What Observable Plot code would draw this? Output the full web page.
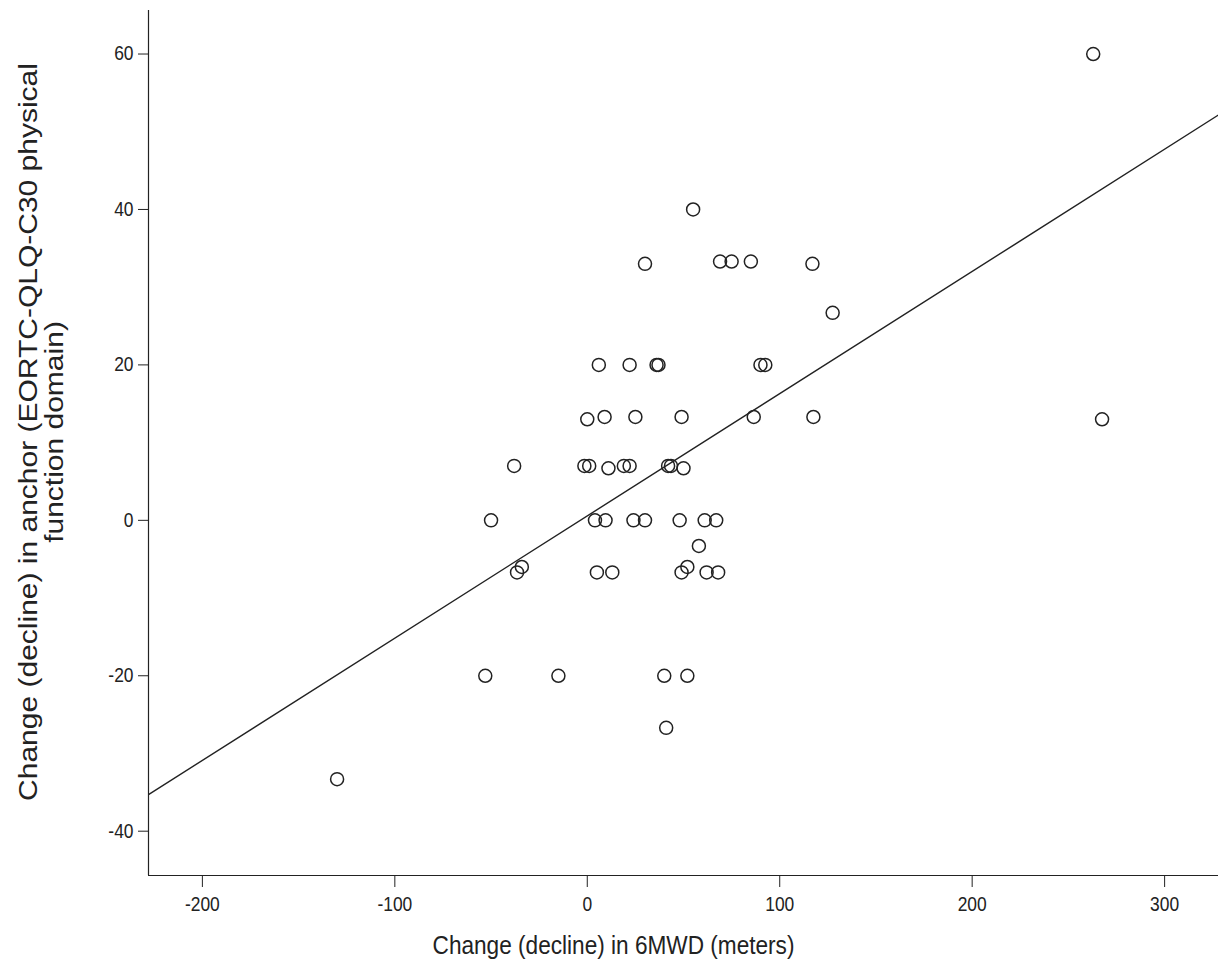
<!DOCTYPE html>
<html>
<head>
<meta charset="utf-8">
<script src="https://cdn.jsdelivr.net/npm/d3@7"></script>
<script src="https://cdn.jsdelivr.net/npm/@observablehq/plot@0.6"></script>
<style>
  html, body { margin: 0; padding: 0; background: #fff; }
  #chart svg { display: block; }
</style>
</head>
<body>
<div id="chart"></div>
<script>
// Change (decline) in 6MWD (meters)
const walkChange = [262.9, 55, 30, 69, 75, 85, 117, 127.5, 6, 22, 36, 37, 90, 92.5,
  0, 9, 25, 49, 86.5, 117.5, 267.5, -38, -1.5, 1, 11, 19, 22, 42, 43.5, 50,
  -50, 4, 9.5, 24, 30, 48, 61, 67, 58, -34, -36.5, 5, 13, 49, 52, 62, 68,
  -53, -15, 40, 52, 41, -130];
// Change (decline) in anchor (EORTC-QLQ-C30 physical function domain)
const anchorChange = [60, 40, 33, 33.3, 33.3, 33.3, 33, 26.7, 20, 20, 20, 20, 20, 20,
  13, 13.3, 13.3, 13.3, 13.3, 13.3, 13, 7, 7, 7, 6.7, 7, 7, 7, 7, 6.7,
  0, 0, 0, 0, 0, 0, 0, 0, -3.3, -6, -6.7, -6.7, -6.7, -6.7, -6, -6.7, -6.7,
  -20, -20, -20, -20, -26.7, -33.3];
const xTicks = [-200, -100, 0, 100, 200, 300];
const yTicks = [-40, -20, 0, 20, 40, 60];
const xDomain = [-228, 328];
const yDomain = [-45.7, 65.6];
const xLabel = "Change (decline) in 6MWD (meters)";
const yLabel = "Change (decline) in anchor (EORTC-QLQ-C30 physical\nfunction domain)";

const data = walkChange.map((x, i) => ({x, y: anchorChange[i]}));

// ordinary least squares fit line
const mx = d3.mean(walkChange), my = d3.mean(anchorChange);
const slope = d3.sum(data, d => (d.x - mx) * (d.y - my)) / d3.sum(data, d => (d.x - mx) ** 2);
const intercept = my - slope * mx;
const fit = xDomain.map(x => ({x, y: intercept + slope * x}));

const ink = "#222";
const fmt = d => String(d);
const chart = Plot.plot({
  width: 1225,
  height: 975,
  marginLeft: 148,
  marginRight: 7,
  marginTop: 10,
  marginBottom: 100,
  style: {fontFamily: "Liberation Sans, Arial, sans-serif", color: ink, background: "#fff"},
  x: {domain: xDomain},
  y: {domain: yDomain},
  marks: [
    Plot.axisX({ticks: xTicks, tickFormat: fmt, tickSize: 12, tickPadding: 9, fontSize: 20, label: null}),
    Plot.axisY({ticks: yTicks, tickFormat: fmt, tickSize: 10, tickPadding: 5, fontSize: 20, label: null}),
    Plot.ruleX([xDomain[0]], {stroke: ink, strokeWidth: 1.2}),
    Plot.ruleY([yDomain[0]], {stroke: ink, strokeWidth: 1.2}),
    Plot.line(fit, {x: "x", y: "y", stroke: ink, strokeWidth: 1.4, clip: true}),
    Plot.dot(data, {x: "x", y: "y", r: 6.5, stroke: ink, strokeWidth: 1.5, fill: "none"}),
    Plot.text([xLabel], {frameAnchor: "bottom", dx: -70, dy: 70, fontSize: 26,
      lineAnchor: "middle", textAnchor: "middle", fill: ink}),
    Plot.text([yLabel], {frameAnchor: "left", rotate: -90, dx: -107, dy: -11, fontSize: 30,
      lineHeight: 1.0, lineAnchor: "middle", textAnchor: "middle", fill: ink})
  ]
});
// narrow the glyphs slightly (the reference font is condensed)
chart.querySelectorAll("text").forEach(t => {
  const tr = t.getAttribute("transform") || "";
  const rotated = /rotate/.test(tr) || /rotate/.test(t.parentNode.getAttribute("transform") || "");
  const x = +t.getAttribute("x") || 0, y = +t.getAttribute("y") || 0;
  const s = rotated ? "scale(1,0.87)" : "scale(0.87,1)";
  t.setAttribute("transform", `${tr} translate(${x},${y}) ${s} translate(${-x},${-y})`);
});
document.getElementById("chart").appendChild(chart);
</script>
</body>
</html>
